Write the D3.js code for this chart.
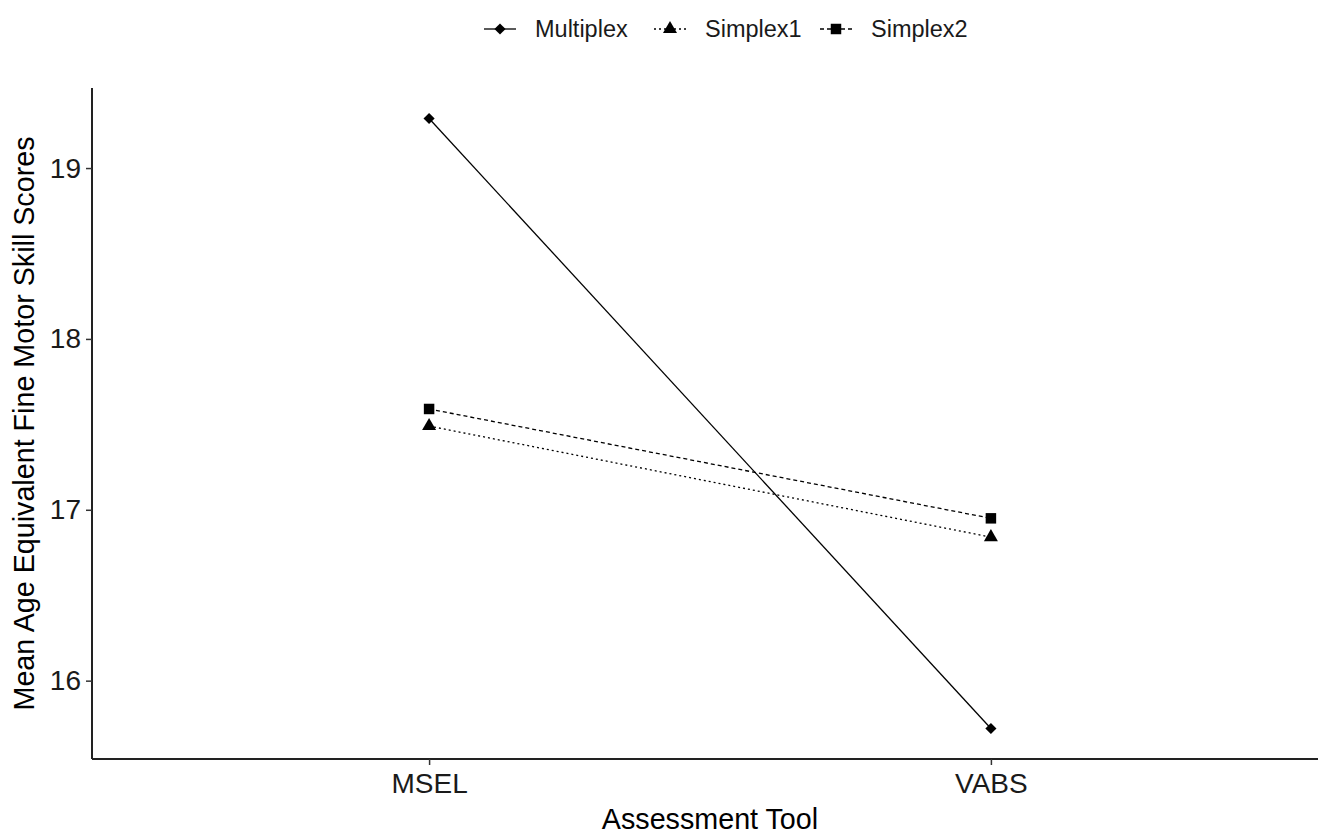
<!DOCTYPE html>
<html>
<head>
<meta charset="utf-8">
<script src="https://cdn.jsdelivr.net/npm/d3@7"></script>
<style>
  body { margin: 0; background: #fff; }
  svg { display: block; font-family: "Liberation Sans", Arial, sans-serif; }
</style>
</head>
<body>
<svg id="chart" width="1318" height="835"></svg>
<script>
// chart data
const tools = ['MSEL', 'VABS'];
const groups = ['Multiplex', 'Simplex1', 'Simplex2'];
const multiplex = [19.29, 15.72];
const simplex1 = [17.49, 16.84];
const simplex2 = [17.59, 16.95];
const yTicks = [16, 17, 18, 19];

const seriesValues = [multiplex, simplex1, simplex2];
const dashes = [null, '2,3', '4,3'];
const shapes = [d3.symbolSquare, d3.symbolTriangle, d3.symbolSquare];
const shapeSize = [62, 85, 110];
const shapeRot = [45, 0, 0];

const svg = d3.select('#chart');
const plotLeft = 92, plotBottom = 759, plotTop = 88;

const x = d3.scalePoint()
  .domain(tools)
  .range([plotLeft, 1328])
  .padding(0.6);

const allVals = seriesValues.flat();
const lo = d3.min(allVals), hi = d3.max(allVals);
const pad = (hi - lo) * 0.05;
const y = d3.scaleLinear()
  .domain([lo - pad, hi + pad])
  .range([plotBottom, plotTop]);

// axes
const yAxis = svg.append('g')
  .attr('transform', 'translate(' + plotLeft + ',0)')
  .call(d3.axisLeft(y).tickValues(yTicks).tickSize(6).tickPadding(5).tickFormat(d3.format('d')));
const xAxis = svg.append('g')
  .attr('transform', 'translate(0,' + plotBottom + ')')
  .call(d3.axisBottom(x).tickSize(6).tickPadding(8));
[yAxis, xAxis].forEach(function(a) {
  a.select('.domain').attr('stroke', '#222').attr('stroke-width', 2);
  a.selectAll('.tick line').attr('stroke', '#333').attr('stroke-width', 1.5);
  a.selectAll('.tick text').attr('fill', '#1a1a1a').style('font-size', '28px');
});
xAxis.select('.domain').attr('d', 'M' + plotLeft + ',0H1318');
yAxis.select('.domain').attr('d', 'M0,' + plotBottom + 'V' + plotTop);

// axis titles
svg.append('text')
  .attr('transform', 'translate(34,' + ((plotTop + plotBottom) / 2) + ') rotate(-90)')
  .attr('text-anchor', 'middle')
  .style('font-size', '28.7px')
  .text('Mean Age Equivalent Fine Motor Skill Scores');
svg.append('text')
  .attr('x', (plotLeft + 1328) / 2)
  .attr('y', 829)
  .attr('text-anchor', 'middle')
  .style('font-size', '28.7px')
  .text('Assessment Tool');

// lines and points
const line = d3.line()
  .x(function(d, i) { return x(tools[i]); })
  .y(function(d) { return y(d); });

seriesValues.forEach(function(vals, s) {
  svg.append('path')
    .datum(vals)
    .attr('d', line)
    .attr('fill', 'none')
    .attr('stroke', '#000')
    .attr('stroke-width', 1.3)
    .attr('stroke-dasharray', dashes[s]);
  svg.selectAll('.pt' + s)
    .data(vals)
    .enter().append('path')
    .attr('class', 'pt' + s)
    .attr('transform', function(d, i) {
      return 'translate(' + x(tools[i]) + ',' + y(d) + ') rotate(' + shapeRot[s] + ')';
    })
    .attr('d', d3.symbol().type(shapes[s]).size(shapeSize[s]))
    .attr('fill', '#000');
});

// legend
const legendX = [484, 654, 820];
const legend = svg.selectAll('g.legend')
  .data(groups)
  .enter().append('g')
  .attr('class', 'legend')
  .attr('transform', function(d, i) { return 'translate(' + legendX[i] + ',29)'; });
legend.append('line')
  .attr('x1', 0).attr('x2', 32)
  .attr('stroke', '#000')
  .attr('stroke-width', 1.3)
  .attr('stroke-dasharray', function(d, i) { return dashes[i]; });
legend.append('path')
  .attr('transform', function(d, i) { return 'translate(16,0) rotate(' + shapeRot[i] + ')'; })
  .attr('d', function(d, i) { return d3.symbol().type(shapes[i]).size(shapeSize[i])(); })
  .attr('fill', '#000');
legend.append('text')
  .attr('x', 51)
  .attr('dy', '0.35em')
  .style('font-size', '23.5px')
  .attr('fill', '#1a1a1a')
  .text(function(d) { return d; });
</script>
</body>
</html>
